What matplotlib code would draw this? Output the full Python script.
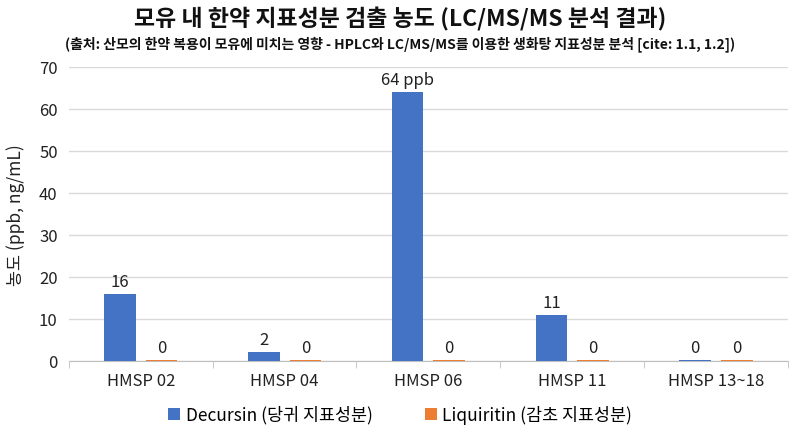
import matplotlib
matplotlib.use("Agg")
import matplotlib.pyplot as plt
import numpy as np

plt.rcParams['font.family'] = ['Noto Sans CJK KR', 'DejaVu Sans']

categories = ["HMSP 02", "HMSP 04", "HMSP 06", "HMSP 11", "HMSP 13~18"]
decursin = [16, 2.2, 64, 11, 0.1]
liquiritin = [0.2, 0.1, 0.1, 0.2, 0.1]
decursin_labels = ["16", "2", "64 ppb", "11", "0"]
liquiritin_labels = ["0", "0", "0", "0", "0"]
series_names = ["Decursin (당귀 지표성분)", "Liquiritin (감초 지표성분)"]
yticks = [0, 10, 20, 30, 40, 50, 60, 70]

title = "모유 내 한약 지표성분 검출 농도 (LC/MS/MS 분석 결과)"
subtitle = "(출처: 산모의 한약 복용이 모유에 미치는 영향 - HPLC와 LC/MS/MS를 이용한 생화탕 지표성분 분석 [cite: 1.1, 1.2])"
ylabel = "농도 (ppb, ng/mL)"

blue = "#4472C4"
orange = "#ED7D31"

fig = plt.figure(figsize=(8, 4.35), dpi=100)
ax = fig.add_axes([0.086, 0.168, 0.899, 0.676])

x = np.arange(len(categories))
w = 0.22
off = 0.145
b1 = ax.bar(x - off, decursin, w, color=blue, label=series_names[0], zorder=3)
b2 = ax.bar(x + off, liquiritin, w, color=orange, label=series_names[1], zorder=3)

for rect, lab in zip(b1, decursin_labels):
    ax.annotate(lab, (rect.get_x() + rect.get_width() / 2, rect.get_height()),
                xytext=(0, 3), textcoords="offset points", ha="center", va="bottom",
                fontsize=12, color="#222222")
for rect, lab in zip(b2, liquiritin_labels):
    ax.annotate(lab, (rect.get_x() + rect.get_width() / 2, rect.get_height()),
                xytext=(0, 3), textcoords="offset points", ha="center", va="bottom",
                fontsize=12, color="#222222")

ax.set_xlim(-0.5, len(categories) - 0.5)
ax.set_ylim(0, 70)
ax.set_yticks(yticks)
ax.set_xticks(x)
ax.set_xticklabels(categories)
ax.set_xticks(np.arange(-0.5, len(categories), 1.0), minor=True)
ax.tick_params(axis='x', which='major', length=0, pad=8, labelsize=12, colors="#222222")
ax.tick_params(axis='x', which='minor', length=5, color="#bfbfbf")
ax.tick_params(axis='y', length=0, pad=8, labelsize=12, colors="#222222")
ax.grid(axis='y', color="#d9d9d9", linewidth=1, zorder=0)
for s in ["top", "right", "left"]:
    ax.spines[s].set_visible(False)
ax.spines["bottom"].set_color("#bfbfbf")
ax.set_ylabel(ylabel, fontsize=12.5, color="#222222", labelpad=10)

fig.text(0.5, 0.955, title, ha="center", va="center", fontsize=16.5, fontweight="bold", color="#111111")
fig.text(0.5, 0.898, subtitle, ha="center", va="center", fontsize=10, fontweight="bold", color="#111111")

fig.legend(handles=[b1, b2], labels=series_names, loc="center", bbox_to_anchor=(0.5, 0.045),
           ncol=2, frameon=False, fontsize=12.5, handlelength=0.7, handleheight=0.7,
           handletextpad=0.3, columnspacing=3)

fig.savefig("out.png", dpi=100, facecolor="white")
